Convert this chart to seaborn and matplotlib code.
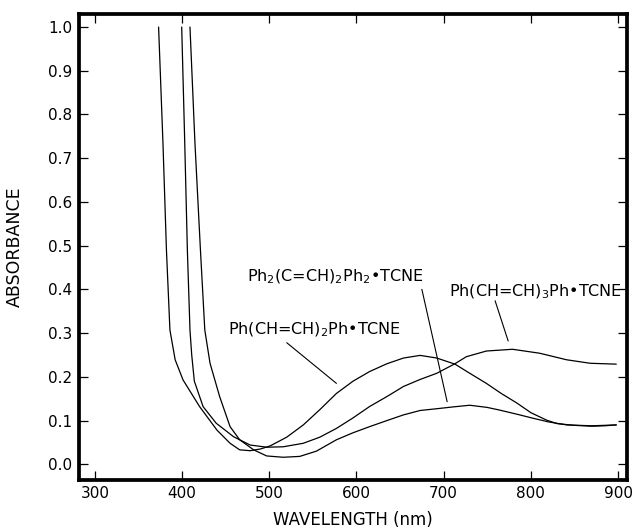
import numpy as np
import pandas as pd
import matplotlib
matplotlib.use("Agg")
import matplotlib.pyplot as plt
import seaborn as sns

# --- data ---
label_a = r"Ph(CH=CH)$_2$Ph•TCNE"
wl_a = [373, 378, 382, 386, 392, 401, 420, 440, 455, 466, 478, 490, 501, 520, 539,
        558, 577, 596, 615, 635, 654, 673, 692, 713, 730, 749, 766, 784, 800, 818,
        830, 850, 870, 885, 898]
abs_a = [1.00, 0.735, 0.49, 0.307, 0.239, 0.193, 0.132, 0.078, 0.048, 0.033, 0.031,
         0.035, 0.042, 0.062, 0.090, 0.125, 0.162, 0.190, 0.212, 0.230, 0.243, 0.249,
         0.243, 0.229, 0.208, 0.185, 0.162, 0.140, 0.118, 0.101, 0.093, 0.089, 0.087,
         0.088, 0.090]

label_b = r"Ph(CH=CH)$_3$Ph•TCNE"
wl_b = [399.5, 403, 406, 409, 411, 414, 424, 439, 459, 478, 497, 516, 539, 558, 577,
        596, 615, 635, 654, 673, 692, 713, 726, 749, 779, 810, 841, 868, 898]
abs_b = [1.00, 0.735, 0.49, 0.307, 0.25, 0.19, 0.132, 0.094, 0.063, 0.044, 0.039,
         0.040, 0.048, 0.062, 0.082, 0.106, 0.132, 0.155, 0.178, 0.194, 0.208, 0.230,
         0.246, 0.259, 0.263, 0.254, 0.239, 0.231, 0.229]

label_c = r"Ph$_2$(C=CH)$_2$Ph$_2$•TCNE"
wl_c = [409, 414.7, 421, 426, 432, 443, 455, 466, 482, 497, 516, 535, 554, 577, 596,
        615, 635, 654, 673, 692, 710, 730, 750, 764, 785, 803, 820, 841, 870, 898]
abs_c = [1.00, 0.735, 0.49, 0.307, 0.231, 0.155, 0.086, 0.056, 0.033, 0.019, 0.016,
         0.018, 0.030, 0.056, 0.072, 0.086, 0.100, 0.113, 0.123, 0.127, 0.131, 0.135,
         0.130, 0.124, 0.114, 0.105, 0.097, 0.090, 0.088, 0.090]

x_ticks = [300, 400, 500, 600, 700, 800, 900]
y_ticks = [0.0, 0.1, 0.2, 0.3, 0.4, 0.5, 0.6, 0.7, 0.8, 0.9, 1.0]
y_tick_labels = ["0.0", "0.1", "0.2", "0.3", "0.4", "0.5", "0.6", "0.7", "0.8", "0.9", "1.0"]

df = pd.concat([
    pd.DataFrame({"wl": wl_a, "abs": abs_a, "cpd": "A"}),
    pd.DataFrame({"wl": wl_b, "abs": abs_b, "cpd": "B"}),
    pd.DataFrame({"wl": wl_c, "abs": abs_c, "cpd": "C"}),
], ignore_index=True)

sns.set_style("ticks")
plt.rcParams["font.family"] = ["DejaVu Sans"]
plt.rcParams["text.color"] = "black"
plt.rcParams["axes.labelcolor"] = "black"

fig = plt.figure(figsize=(6.34, 5.3), dpi=100)
ax = fig.add_axes([79 / 634, 50 / 530, 548 / 634, 466.5 / 530])

sns.lineplot(data=df, x="wl", y="abs", hue="cpd", units="cpd", estimator=None,
             sort=False, palette=["black", "black", "black"], linewidth=0.9,
             legend=False, ax=ax)

ax.set_xlim(281.7, 910.3)
ax.set_ylim(-0.036, 1.031)
ax.set_xticks(x_ticks)
ax.set_xticklabels([str(t) for t in x_ticks])
ax.set_yticks(y_ticks)
ax.set_yticklabels(y_tick_labels)
ax.tick_params(direction="in", length=6.5, width=0.9, top=True, right=True,
               labelsize=11, color="black", labelcolor="black")
ax.tick_params(axis="x", pad=4)
ax.tick_params(axis="y", pad=5)
for s in ax.spines.values():
    s.set_visible(True)
    s.set_linewidth(2.7)
    s.set_color("black")

ax.set_xlabel("WAVELENGTH (nm)", fontsize=12, color="black")
ax.set_ylabel("ABSORBANCE", fontsize=12.5, color="black")
ax.xaxis.set_label_coords(0.5, -0.066)
ax.yaxis.set_label_coords(-0.100, 0.5)

txt_kw = dict(fontsize=11.5, ha="left", va="center", color="black")
ax.text(452.5, 0.3075, label_a, **txt_kw)
ax.text(706, 0.395, label_b, clip_on=False, **txt_kw)
ax.text(474, 0.4286, label_c, **txt_kw)

line_kw = dict(arrowstyle="-", lw=0.8, color="black", shrinkA=0, shrinkB=0)
ax.annotate("", xy=(577, 0.185), xytext=(520, 0.278), arrowprops=line_kw)
ax.annotate("", xy=(774, 0.282), xytext=(759, 0.374), arrowprops=line_kw)
ax.annotate("", xy=(704, 0.143), xytext=(675, 0.40), arrowprops=line_kw)

fig.savefig("out.png", dpi=100)
